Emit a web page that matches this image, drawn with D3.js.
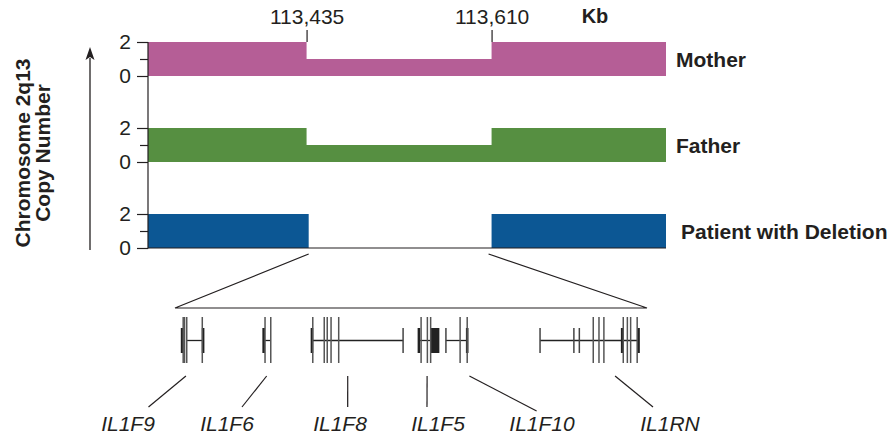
<!DOCTYPE html>
<html>
<head>
<meta charset="utf-8">
<script src="https://cdn.jsdelivr.net/npm/d3@7"></script>
<style>
  html, body { margin: 0; padding: 0; background: #fff; }
  svg { display: block; font-family: "Liberation Sans", Arial, Helvetica, sans-serif; }
</style>
</head>
<body>
<svg id="chart" width="896" height="436"></svg>
<script>
// ---- Data -------------------------------------------------------------
const trackNames = ["Mother", "Father", "Patient with Deletion"];
const regionKb = [113285, 113775];
const breakpointTicks = [113435, 113610];
const copyTicks = [0, 1, 2];

// copy-number segments per track: [start kb, end kb, copies]
const motherSegments  = [[113285, 113435, 2], [113435, 113610, 1], [113610, 113775, 2]];
const fatherSegments  = [[113285, 113435, 2], [113435, 113610, 1], [113610, 113775, 2]];
const patientSegments = [[113285, 113437, 2], [113437, 113610, 0], [113610, 113775, 2]];

// deleted interval expanded below
const deletionKb = [113437, 113610];

// IL-1 family genes inside the deletion (kb)
const geneNames   = ["IL1F9", "IL1F6", "IL1F8", "IL1F5", "IL1F10", "IL1RN"];
const geneSpans   = [[113441.3, 113447.0], [113470.0, 113472.1], [113487.5, 113520.6],
                     [113526.4, 113530.8], [113536.3, 113544.1], [113570.8, 113606.9]];
const exonsTall   = [[113440.0, 113440.5, 113441.3, 113447.0],
                     [113470.0, 113472.1],
                     [113487.5, 113491.7, 113492.8, 113494.2, 113497.0],
                     [113527.2, 113529.5, 113530.7],
                     [113541.5, 113544.1],
                     [113590.3, 113592.4, 113594.2, 113601.3, 113602.8, 113604.0, 113606.4]];
const exonsThick  = [[113439.6, 113447.3], [113469.5], [113487.2], [113526.4], [113544.1], [113600.9, 113606.9]];
const exonsShort  = [[], [], [113520.6], [], [113536.3], [113570.8, 113583.2, 113585.2]];
const exonBlocks  = [[], [], [], [[113530.8, 113533.9]], [], []];
const calloutKb   = [113441.0, 113470.6, 113500.3, 113529.4, 113544.9, 113598.3];

// ---- Layout -----------------------------------------------------------
const svg = d3.select("#chart");
const ink = "#231f20";
const trackColors = ["#b55e96", "#568f41", "#0c5794"];
const labelFont = 21;
const tickFont = "21px";

const x = d3.scaleLinear().domain(regionKb).range([148, 666]);
const baseY = d3.scalePoint().domain(trackNames).range([76, 248]);
const barH = 34;
const cnY = (track) => d3.scaleLinear().domain([0, 2]).range([baseY(track), baseY(track) - barH]);

const segs = [motherSegments, fatherSegments, patientSegments];

// copy-number step bars
trackNames.forEach((t, i) => {
  const y = cnY(t);
  const pts = segs[i].map(s => ({ kb: s[0], cn: s[2] }));
  const last = segs[i][segs[i].length - 1];
  pts.push({ kb: last[1], cn: last[2] });
  const area = d3.area()
    .x(d => x(d.kb))
    .y0(y(0))
    .y1(d => y(d.cn))
    .curve(d3.curveStepAfter);
  svg.append("path").attr("d", area(pts)).attr("fill", trackColors[i]);

  // per-track copy ticks
  const ax = svg.append("g")
    .attr("transform", `translate(${x(regionKb[0])},0)`)
    .call(d3.axisLeft(y).tickValues(copyTicks).tickSize(11).tickPadding(6)
      .tickFormat(d => d === 1 ? "" : d));
  ax.select(".domain").remove();
  ax.selectAll(".tick line").attr("stroke", ink).attr("stroke-width", 1.2)
    .attr("x2", d => d === 1 ? -8 : -11);
  ax.selectAll(".tick text").attr("fill", ink).style("font-size", tickFont)
    .style("font-family", "'Liberation Sans', Arial, sans-serif");

  // track name
  svg.append("text")
    .attr("x", x(regionKb[1]) + (i === 2 ? 15 : 10))
    .attr("y", y(1))
    .attr("dy", "0.36em")
    .attr("font-weight", "bold")
    .attr("font-size", labelFont)
    .attr("fill", ink)
    .text(t);
});

// vertical axis line and baseline
svg.append("line")
  .attr("x1", x(regionKb[0])).attr("x2", x(regionKb[0]))
  .attr("y1", cnY(trackNames[0])(2)).attr("y2", baseY(trackNames[2]) + 0.5)
  .attr("stroke", ink).attr("stroke-width", 1.2);
svg.append("line")
  .attr("x1", x(regionKb[0])).attr("x2", x(regionKb[1]))
  .attr("y1", baseY(trackNames[2])).attr("y2", baseY(trackNames[2]))
  .attr("stroke", ink).attr("stroke-width", 1.2);

// breakpoint axis on top
const topAx = svg.append("g")
  .attr("transform", `translate(0,${cnY(trackNames[0])(2)})`)
  .call(d3.axisTop(x).tickValues(breakpointTicks).tickFormat(d3.format(",")).tickSize(12).tickPadding(6));
topAx.select(".domain").remove();
topAx.selectAll(".tick line").attr("stroke", ink).attr("stroke-width", 1.2);
topAx.selectAll(".tick text").attr("fill", ink).style("font-size", tickFont)
  .style("font-family", "'Liberation Sans', Arial, sans-serif");
svg.append("text")
  .attr("x", 595).attr("y", 23)
  .attr("text-anchor", "middle")
  .attr("font-weight", "bold").attr("font-size", 20).attr("fill", ink)
  .text("Kb");

// y-axis title and arrow
const yTitle = svg.append("text")
  .attr("transform", "translate(30,153) rotate(-90)")
  .attr("text-anchor", "middle")
  .attr("font-weight", "bold").attr("font-size", labelFont).attr("fill", ink);
yTitle.append("tspan").attr("x", 0).attr("y", 0).text("Chromosome 2q13");
yTitle.append("tspan").attr("x", 0).attr("y", 20).text("Copy Number");

svg.append("line")
  .attr("x1", 90).attr("x2", 90).attr("y1", 250).attr("y2", 58)
  .attr("stroke", ink).attr("stroke-width", 1.3);
svg.append("path")
  .attr("d", "M90,47 L85.5,60 L90,57 L94.5,60 Z")
  .attr("fill", ink);

// ---- Expanded view of the deletion -------------------------------------
const gx = d3.scaleLinear().domain(deletionKb).range([175, 647]);
const zoomY = 308;

svg.append("path")
  .attr("d", `M${x(deletionKb[0])},254 L${gx(deletionKb[0])},${zoomY} L${gx(deletionKb[1])},${zoomY} L${x(deletionKb[1]) - 3},254`)
  .attr("fill", "none").attr("stroke", ink).attr("stroke-width", 1.2);

const mid = 340.5;
const g = svg.append("g");
geneNames.forEach((name, i) => {
  // intron backbone
  g.append("line")
    .attr("x1", gx(geneSpans[i][0])).attr("x2", gx(geneSpans[i][1]))
    .attr("y1", mid).attr("y2", mid)
    .attr("stroke", "#222").attr("stroke-width", 1.3);
  exonsThick[i].forEach(k => g.append("line")
    .attr("x1", gx(k)).attr("x2", gx(k)).attr("y1", mid - 12.5).attr("y2", mid + 12.5)
    .attr("stroke", "#222").attr("stroke-width", 2.6));
  exonsShort[i].forEach(k => g.append("line")
    .attr("x1", gx(k)).attr("x2", gx(k)).attr("y1", mid - 12.5).attr("y2", mid + 12.5)
    .attr("stroke", "#444").attr("stroke-width", 1.5));
  exonBlocks[i].forEach(b => g.append("rect")
    .attr("x", gx(b[0])).attr("width", gx(b[1]) - gx(b[0]))
    .attr("y", mid - 12.5).attr("height", 25)
    .attr("fill", "#222"));
  exonsTall[i].forEach(k => g.append("line")
    .attr("x1", gx(k)).attr("x2", gx(k)).attr("y1", mid - 23.5).attr("y2", mid + 22.5)
    .attr("stroke", "#555").attr("stroke-width", 1.5));
});

// gene callouts and labels
const labelX   = [128, 227, 340, 438, 542, 670];
const calloutX = [148.5, 242, 347.7, 427, 536.6, 653];
const calloutY = [407, 407, 407, 407, 411, 407];
geneNames.forEach((name, i) => {
  svg.append("line")
    .attr("x1", gx(calloutKb[i])).attr("y1", 376)
    .attr("x2", calloutX[i]).attr("y2", calloutY[i])
    .attr("stroke", ink).attr("stroke-width", 1.2);
  svg.append("text")
    .attr("x", labelX[i]).attr("y", 431)
    .attr("text-anchor", "middle")
    .attr("font-style", "italic").attr("font-size", labelFont).attr("fill", ink)
    .text(name);
});
</script>
</body>
</html>
